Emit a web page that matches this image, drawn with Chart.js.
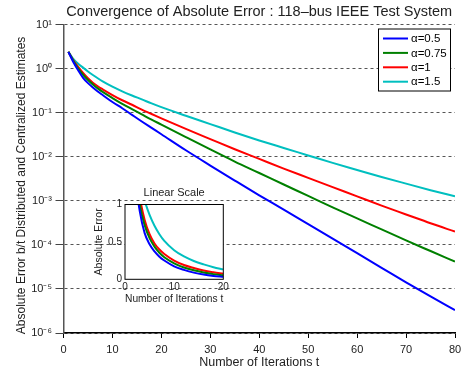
<!DOCTYPE html>
<html>
<head>
<meta charset="utf-8">
<script src="https://cdn.jsdelivr.net/npm/chart.js@4.4.0/dist/chart.umd.min.js"></script>
<style>
  html, body { margin: 0; padding: 0; background: #fff; }
  #wrap { position: relative; width: 461px; height: 375px; }
  #main { position: absolute; left: 0; top: 0; }
  #inset { position: absolute; left: 92px; top: 183px; }
</style>
</head>
<body>
<div id="wrap">
  <canvas id="main" width="461" height="375"></canvas>
  <canvas id="inset" width="143" height="125"></canvas>
</div>
<script>
const FONT = "'Liberation Sans', Arial, Helvetica, sans-serif";

// iterations t
const iterations = [1, 2, 3, 4, 5, 6, 7, 8, 10, 12, 14, 16, 18, 20, 25, 30, 35, 40, 45, 50, 55, 60, 65, 70, 75, 80];

// absolute error per alpha
const errAlpha05 = [2.40, 1.41, 0.912, 0.617, 0.468, 0.372, 0.302, 0.251, 0.174, 0.126, 0.0891, 0.0631, 0.0452, 0.0324,
  0.0140, 6.31e-3, 2.88e-3, 1.33e-3, 6.31e-4, 2.95e-4, 1.38e-4, 6.46e-5, 3.02e-5, 1.41e-5, 6.76e-6, 3.31e-6];
const errAlpha075 = [2.40, 1.51, 1.0, 0.724, 0.550, 0.437, 0.355, 0.295, 0.214, 0.158, 0.120, 0.0912, 0.0692, 0.0537,
  0.0279, 0.0146, 7.76e-3, 4.27e-3, 2.34e-3, 1.29e-3, 7.08e-4, 3.98e-4, 2.24e-4, 1.26e-4, 7.24e-5, 4.17e-5];
const errAlpha1 = [2.40, 1.55, 1.10, 0.794, 0.603, 0.479, 0.398, 0.339, 0.251, 0.191, 0.151, 0.117, 0.0933, 0.0741,
  0.0427, 0.0251, 0.0148, 8.91e-3, 5.37e-3, 3.31e-3, 2.04e-3, 1.26e-3, 7.76e-4, 4.90e-4, 3.09e-4, 2.00e-4];
const errAlpha15 = [2.40, 1.66, 1.29, 1.05, 0.861, 0.716, 0.603, 0.513, 0.389, 0.305, 0.245, 0.200, 0.162, 0.133,
  0.0851, 0.0550, 0.0355, 0.0234, 0.0158, 0.0107, 7.24e-3, 5.01e-3, 3.47e-3, 2.45e-3, 1.74e-3, 1.26e-3];

const alphaLabels = ['\u03b1=0.5', '\u03b1=0.75', '\u03b1=1', '\u03b1=1.5'];
const lineColors = ['#0000ff', '#008000', '#ff0000', '#00bfbf'];
const decadeTicks = [1e-6, 1e-5, 1e-4, 1e-3, 1e-2, 1e-1, 1, 10];
const xTicksMain = [0, 10, 20, 30, 40, 50, 60, 70, 80];

const SUP = {'-': '\u207b', '0': '\u2070', '1': '\u00b9', '2': '\u00b2', '3': '\u00b3', '4': '\u2074',
  '5': '\u2075', '6': '\u2076', '7': '\u2077', '8': '\u2078', '9': '\u2079'};

function powLabel(v) {
  const e = String(Math.round(Math.log10(v)));
  return '10' + e.split('').map(c => SUP[c]).join('');
}

function makeSets(maxT) {
  const all = [errAlpha05, errAlpha075, errAlpha1, errAlpha15];
  return all.map((vals, k) => ({
    label: alphaLabels[k],
    data: iterations.map((t, i) => ({x: t, y: vals[i]})).filter(p => p.x <= maxT),
    borderColor: lineColors[k],
    backgroundColor: lineColors[k],
    borderWidth: 2,
    pointRadius: 0,
    cubicInterpolationMode: 'monotone',
    fill: false
  }));
}

// legend box in the top right corner of the plot
const boxLegend = {
  id: 'boxLegend',
  afterDraw(chart) {
    const ctx = chart.ctx;
    const a = chart.chartArea;
    const x0 = a.right - 76.5, y0 = a.top + 4.5, w = 72, h = 62;
    ctx.save();
    ctx.fillStyle = '#fff';
    ctx.fillRect(x0, y0, w, h);
    ctx.strokeStyle = '#000';
    ctx.lineWidth = 1;
    ctx.strokeRect(x0, y0, w, h);
    ctx.font = '11.5px ' + FONT;
    ctx.textBaseline = 'middle';
    chart.data.datasets.forEach((ds, i) => {
      const y = y0 + 9.5 + i * 14.4;
      ctx.strokeStyle = ds.borderColor;
      ctx.lineWidth = 2;
      ctx.beginPath();
      ctx.moveTo(x0 + 4.5, y);
      ctx.lineTo(x0 + 29.5, y);
      ctx.stroke();
      ctx.fillStyle = '#000';
      ctx.fillText(ds.label, x0 + 32.5, y + 0.5);
    });
    ctx.restore();
  }
};

new Chart(document.getElementById('main'), {
  type: 'line',
  data: {datasets: makeSets(80)},
  options: {
    responsive: false,
    animation: false,
    layout: {padding: {left: 0, right: 6, top: 0, bottom: 0}},
    plugins: {
      legend: {display: false},
      tooltip: {enabled: false},
      title: {
        display: true,
        text: 'Convergence of Absolute Error : 118\u2013bus IEEE Test System',
        fullSize: false,
        color: '#222',
        font: {family: FONT, size: 14.5, weight: 'normal'},
        padding: {top: 3.3, bottom: 3.8}
      }
    },
    scales: {
      x: {
        type: 'linear',
        min: 0, max: 80,
        afterFit: s => { s.height = 42; s.paddingLeft = 0; s.paddingRight = 0; },
        afterBuildTicks: s => { s.ticks = xTicksMain.map(v => ({value: v})); },
        ticks: {color: '#222', font: {family: FONT, size: 11}, padding: 5.5, maxRotation: 0},
        grid: {drawOnChartArea: false, drawTicks: true, tickLength: 5, tickColor: '#000'},
        border: {color: '#000', width: 1.5},
        title: {display: true, text: 'Number of Iterations t', color: '#222',
          font: {family: FONT, size: 12.5}, padding: {top: 0, bottom: 4.8}}
      },
      y: {
        type: 'logarithmic',
        min: 1e-6, max: 10,
        afterFit: s => { s.width = 63.5; s.paddingTop = 0; s.paddingBottom = 0; },
        afterBuildTicks: s => { s.ticks = decadeTicks.map(v => ({value: v})); },
        ticks: {color: '#222', font: {family: FONT, size: 11}, padding: 3.5, callback: v => powLabel(v)},
        grid: {color: '#555', lineWidth: 1, drawTicks: true, tickLength: 8, tickColor: '#444', tickBorderDash: []},
        border: {color: '#555', width: 1.5, dash: [3, 3]},
        title: {display: true, text: 'Absolute Error b/t Distributed and Centralized Estimates    ', color: '#222',
          font: {family: FONT, size: 12}, padding: {top: 14.5, bottom: 0}}
      }
    }
  },
  plugins: [boxLegend]
});

// white plot area + frame for the inset
const insetFrame = {
  id: 'insetFrame',
  beforeDatasetsDraw(chart) {
    const a = chart.chartArea, ctx = chart.ctx;
    ctx.save();
    ctx.fillStyle = '#fff';
    ctx.fillRect(a.left, a.top, a.right - a.left, a.bottom - a.top);
    ctx.restore();
  },
  afterDraw(chart) {
    const a = chart.chartArea, ctx = chart.ctx;
    ctx.save();
    ctx.strokeStyle = '#000';
    ctx.lineWidth = 1;
    ctx.strokeRect(a.left, a.top, a.right - a.left, a.bottom - a.top);
    ctx.restore();
  }
};

new Chart(document.getElementById('inset'), {
  type: 'line',
  data: {datasets: makeSets(20)},
  options: {
    responsive: false,
    animation: false,
    layout: {padding: {left: 0, right: 11.7, top: 0, bottom: 0}},
    plugins: {
      legend: {display: false},
      tooltip: {enabled: false},
      title: {
        display: true,
        text: 'Linear Scale',
        fullSize: false,
        color: '#222',
        font: {family: FONT, size: 11, weight: 'normal'},
        padding: {top: 3, bottom: 5.3}
      }
    },
    scales: {
      x: {
        type: 'linear',
        min: 0, max: 20,
        afterFit: s => { s.height = 28.7; s.paddingLeft = 0; s.paddingRight = 0; },
        ticks: {stepSize: 10, color: '#222', font: {family: FONT, size: 10}, padding: 2, maxRotation: 0},
        grid: {display: false, drawTicks: false},
        border: {display: false},
        title: {display: true, text: 'Number of Iterations t', color: '#222',
          font: {family: FONT, size: 10.5}, padding: {top: 0, bottom: 2.5}}
      },
      y: {
        type: 'linear',
        min: 0, max: 1,
        afterFit: s => { s.width = 33; s.paddingTop = 0; s.paddingBottom = 0; },
        ticks: {stepSize: 0.5, color: '#222', font: {family: FONT, size: 10}, padding: 3, callback: v => String(v)},
        grid: {display: false, drawTicks: false},
        border: {display: false},
        title: {display: true, text: 'Absolute Error', color: '#222',
          font: {family: FONT, size: 10.5}, padding: {top: 1.2, bottom: 0}}
      }
    }
  },
  plugins: [insetFrame]
});
</script>
</body>
</html>
